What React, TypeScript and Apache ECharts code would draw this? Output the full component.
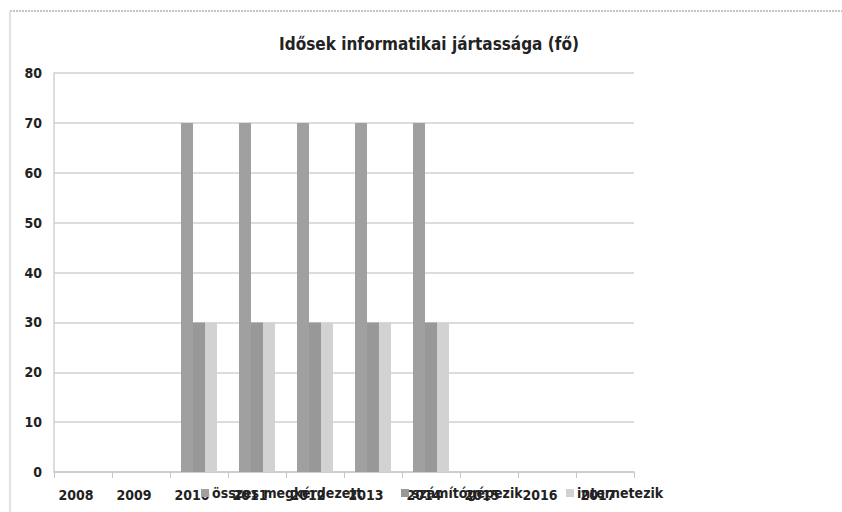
import React, { useEffect, useRef } from "react";
import * as echarts from "echarts";

const title = "Idősek informatikai jártassága (fő)";
const years = ["2008", "2009", "2010", "2011", "2012", "2013", "2014", "2015", "2016", "2017"];
const seriesNames = ["összes megkérdezett", "számítógépezik", "internetezik"];
const osszes = [0, 0, 70, 70, 70, 70, 70, 0, 0, 0];
const szamitogep = [0, 0, 30, 30, 30, 30, 30, 0, 0, 0];
const internet = [0, 0, 30, 30, 30, 30, 30, 0, 0, 0];
const colors = ["#a0a0a0", "#989898", "#d2d2d2"];

const FONT = "'DejaVu Sans Condensed', 'DejaVu Sans', sans-serif";

export default function App() {
  const ref = useRef<HTMLDivElement>(null);
  useEffect(() => {
    if (!ref.current) return;
    const chart = echarts.init(ref.current, undefined, { renderer: "svg" });
    const legendBase = {
      top: 481,
      itemWidth: 8,
      itemHeight: 8,
      icon: "rect",
      itemGap: 0,
      textStyle: { fontFamily: FONT, fontWeight: "bold", fontSize: 14, color: "#222", padding: [0, 0, 0, -2] },
    };
    chart.setOption({
      animation: false,
      backgroundColor: "#fff",
      color: colors,
      title: {
        text: title,
        left: 424,
        textAlign: "center",
        top: 30,
        textStyle: { fontFamily: FONT, fontWeight: "bold", fontSize: 17, color: "#222" },
      },
      legend: [
        { ...legendBase, left: 196, data: [seriesNames[0]] },
        { ...legendBase, left: 396, data: [seriesNames[1]] },
        { ...legendBase, left: 561, data: [seriesNames[2]] },
      ],
      grid: { left: 54, right: 208, top: 73, bottom: 40 },
      xAxis: {
        type: "category",
        data: years,
        axisLine: { lineStyle: { color: "#c8c8c8", width: 1.5 } },
        axisTick: { show: true, length: 6, lineStyle: { color: "#c8c8c8" } },
        axisLabel: {
          margin: 16,
          padding: [0, 14, 0, 0],
          fontFamily: FONT,
          fontWeight: "bold",
          fontSize: 14,
          color: "#222",
        },
      },
      yAxis: {
        type: "value",
        min: 0,
        max: 80,
        interval: 10,
        axisLine: { show: true, lineStyle: { color: "#d0d0d0", width: 1.5 } },
        axisTick: { show: false },
        splitLine: { lineStyle: { color: "#d0d0d0", width: 1.5 } },
        axisLabel: {
          margin: 12,
          fontFamily: FONT,
          fontWeight: "bold",
          fontSize: 14,
          color: "#222",
        },
      },
      graphic: [
        { type: "line", shape: { x1: 10, y1: 11, x2: 842, y2: 11 }, style: { stroke: "#888", lineWidth: 1, lineDash: [2, 1] } },
        { type: "line", shape: { x1: 10, y1: 11, x2: 10, y2: 512 }, style: { stroke: "#d8d8d8", lineWidth: 1.5 } },
      ],
      series: [
        { name: seriesNames[0], type: "bar", data: osszes, barWidth: 12, barGap: "0%" },
        { name: seriesNames[1], type: "bar", data: szamitogep, barWidth: 12, barGap: "0%" },
        { name: seriesNames[2], type: "bar", data: internet, barWidth: 12, barGap: "0%" },
      ],
    });
    return () => chart.dispose();
  }, []);
  return <div ref={ref} style={{ width: 842, height: 512, position: "absolute", left: 0, top: 0 }} />;
}
